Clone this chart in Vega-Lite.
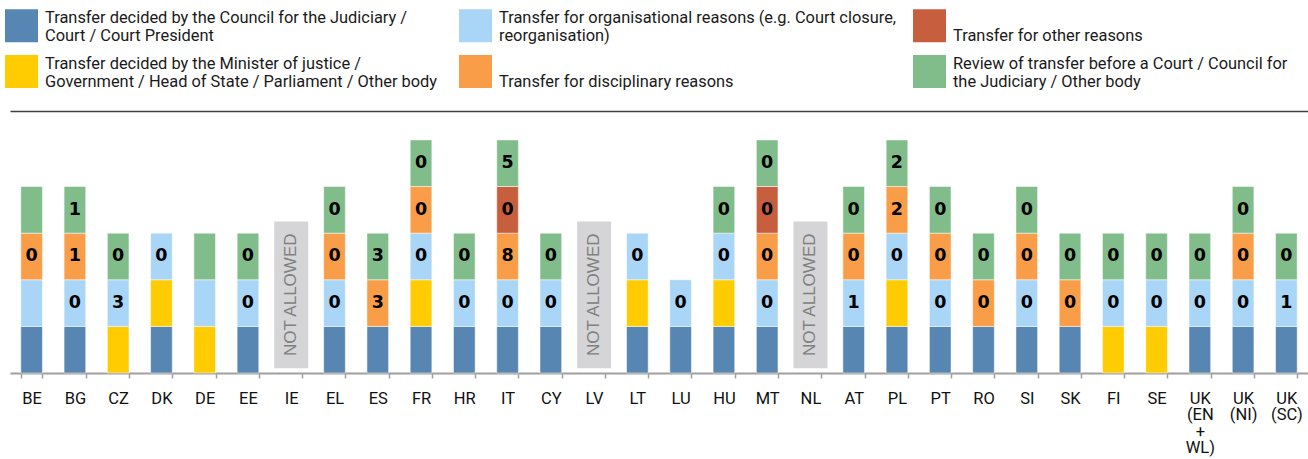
{
  "$schema": "https://vega.github.io/schema/vega-lite/v6.json",
  "width": 1298,
  "height": 262,
  "autosize": {"type": "none"},
  "padding": {"left": 10, "top": 111, "right": 0, "bottom": 86},
  "background": "white",
  "config": {
    "view": {"stroke": null},
    "font": "Roboto"
  },
  "datasets": {
    "segments": [
      {"c": "BE", "k": "council", "n": 1, "lab": ""},
      {"c": "BE", "k": "organisational", "n": 1, "lab": ""},
      {"c": "BE", "k": "disciplinary", "n": 1, "lab": "0"},
      {"c": "BE", "k": "review", "n": 1, "lab": ""},
      {"c": "BG", "k": "council", "n": 1, "lab": ""},
      {"c": "BG", "k": "organisational", "n": 1, "lab": "0"},
      {"c": "BG", "k": "disciplinary", "n": 1, "lab": "1"},
      {"c": "BG", "k": "review", "n": 1, "lab": "1"},
      {"c": "CZ", "k": "minister", "n": 1, "lab": ""},
      {"c": "CZ", "k": "organisational", "n": 1, "lab": "3"},
      {"c": "CZ", "k": "review", "n": 1, "lab": "0"},
      {"c": "DK", "k": "council", "n": 1, "lab": ""},
      {"c": "DK", "k": "minister", "n": 1, "lab": ""},
      {"c": "DK", "k": "organisational", "n": 1, "lab": "0"},
      {"c": "DE", "k": "minister", "n": 1, "lab": ""},
      {"c": "DE", "k": "organisational", "n": 1, "lab": ""},
      {"c": "DE", "k": "review", "n": 1, "lab": ""},
      {"c": "EE", "k": "council", "n": 1, "lab": ""},
      {"c": "EE", "k": "organisational", "n": 1, "lab": "0"},
      {"c": "EE", "k": "review", "n": 1, "lab": "0"},
      {"c": "EL", "k": "council", "n": 1, "lab": ""},
      {"c": "EL", "k": "organisational", "n": 1, "lab": "0"},
      {"c": "EL", "k": "disciplinary", "n": 1, "lab": "0"},
      {"c": "EL", "k": "review", "n": 1, "lab": "0"},
      {"c": "ES", "k": "council", "n": 1, "lab": ""},
      {"c": "ES", "k": "disciplinary", "n": 1, "lab": "3"},
      {"c": "ES", "k": "review", "n": 1, "lab": "3"},
      {"c": "FR", "k": "council", "n": 1, "lab": ""},
      {"c": "FR", "k": "minister", "n": 1, "lab": ""},
      {"c": "FR", "k": "organisational", "n": 1, "lab": "0"},
      {"c": "FR", "k": "disciplinary", "n": 1, "lab": "0"},
      {"c": "FR", "k": "review", "n": 1, "lab": "0"},
      {"c": "HR", "k": "council", "n": 1, "lab": ""},
      {"c": "HR", "k": "organisational", "n": 1, "lab": "0"},
      {"c": "HR", "k": "review", "n": 1, "lab": "0"},
      {"c": "IT", "k": "council", "n": 1, "lab": ""},
      {"c": "IT", "k": "organisational", "n": 1, "lab": "0"},
      {"c": "IT", "k": "disciplinary", "n": 1, "lab": "8"},
      {"c": "IT", "k": "other", "n": 1, "lab": "0"},
      {"c": "IT", "k": "review", "n": 1, "lab": "5"},
      {"c": "CY", "k": "council", "n": 1, "lab": ""},
      {"c": "CY", "k": "organisational", "n": 1, "lab": "0"},
      {"c": "CY", "k": "review", "n": 1, "lab": "0"},
      {"c": "LT", "k": "council", "n": 1, "lab": ""},
      {"c": "LT", "k": "minister", "n": 1, "lab": ""},
      {"c": "LT", "k": "organisational", "n": 1, "lab": "0"},
      {"c": "LU", "k": "council", "n": 1, "lab": ""},
      {"c": "LU", "k": "organisational", "n": 1, "lab": "0"},
      {"c": "HU", "k": "council", "n": 1, "lab": ""},
      {"c": "HU", "k": "minister", "n": 1, "lab": ""},
      {"c": "HU", "k": "organisational", "n": 1, "lab": "0"},
      {"c": "HU", "k": "review", "n": 1, "lab": "0"},
      {"c": "MT", "k": "council", "n": 1, "lab": ""},
      {"c": "MT", "k": "organisational", "n": 1, "lab": "0"},
      {"c": "MT", "k": "disciplinary", "n": 1, "lab": "0"},
      {"c": "MT", "k": "other", "n": 1, "lab": "0"},
      {"c": "MT", "k": "review", "n": 1, "lab": "0"},
      {"c": "AT", "k": "council", "n": 1, "lab": ""},
      {"c": "AT", "k": "organisational", "n": 1, "lab": "1"},
      {"c": "AT", "k": "disciplinary", "n": 1, "lab": "0"},
      {"c": "AT", "k": "review", "n": 1, "lab": "0"},
      {"c": "PL", "k": "council", "n": 1, "lab": ""},
      {"c": "PL", "k": "minister", "n": 1, "lab": ""},
      {"c": "PL", "k": "organisational", "n": 1, "lab": "0"},
      {"c": "PL", "k": "disciplinary", "n": 1, "lab": "2"},
      {"c": "PL", "k": "review", "n": 1, "lab": "2"},
      {"c": "PT", "k": "council", "n": 1, "lab": ""},
      {"c": "PT", "k": "organisational", "n": 1, "lab": "0"},
      {"c": "PT", "k": "disciplinary", "n": 1, "lab": "0"},
      {"c": "PT", "k": "review", "n": 1, "lab": "0"},
      {"c": "RO", "k": "council", "n": 1, "lab": ""},
      {"c": "RO", "k": "disciplinary", "n": 1, "lab": "0"},
      {"c": "RO", "k": "review", "n": 1, "lab": "0"},
      {"c": "SI", "k": "council", "n": 1, "lab": ""},
      {"c": "SI", "k": "organisational", "n": 1, "lab": "0"},
      {"c": "SI", "k": "disciplinary", "n": 1, "lab": "0"},
      {"c": "SI", "k": "review", "n": 1, "lab": "0"},
      {"c": "SK", "k": "council", "n": 1, "lab": ""},
      {"c": "SK", "k": "disciplinary", "n": 1, "lab": "0"},
      {"c": "SK", "k": "review", "n": 1, "lab": "0"},
      {"c": "FI", "k": "minister", "n": 1, "lab": ""},
      {"c": "FI", "k": "organisational", "n": 1, "lab": "0"},
      {"c": "FI", "k": "review", "n": 1, "lab": "0"},
      {"c": "SE", "k": "minister", "n": 1, "lab": ""},
      {"c": "SE", "k": "organisational", "n": 1, "lab": "0"},
      {"c": "SE", "k": "review", "n": 1, "lab": "0"},
      {"c": "UK (EN+WL)", "k": "council", "n": 1, "lab": ""},
      {"c": "UK (EN+WL)", "k": "organisational", "n": 1, "lab": "0"},
      {"c": "UK (EN+WL)", "k": "review", "n": 1, "lab": "0"},
      {"c": "UK (NI)", "k": "council", "n": 1, "lab": ""},
      {"c": "UK (NI)", "k": "organisational", "n": 1, "lab": "0"},
      {"c": "UK (NI)", "k": "disciplinary", "n": 1, "lab": "0"},
      {"c": "UK (NI)", "k": "review", "n": 1, "lab": "0"},
      {"c": "UK (SC)", "k": "council", "n": 1, "lab": ""},
      {"c": "UK (SC)", "k": "organisational", "n": 1, "lab": "1"},
      {"c": "UK (SC)", "k": "review", "n": 1, "lab": "0"}
    ],
    "notallowed": [
      {"c": "IE", "note": "NOT ALLOWED"},
      {"c": "LV", "note": "NOT ALLOWED"},
      {"c": "NL", "note": "NOT ALLOWED"}
    ]
  },
  "resolve": {"axis": {"x": "independent"}},
  "layer": [
    {
      "data": {"name": "segments"},
      "transform": [
        {"stack": "n", "groupby": ["c"], "as": ["y0", "y1"]}
      ],
      "mark": {"type": "bar", "stroke": "white", "strokeWidth": 0.5},
      "encoding": {
        "x": {
          "field": "c", "type": "nominal",
          "scale": {
            "domain": ["BE","BG","CZ","DK","DE","EE","IE","EL","ES","FR","HR","IT","CY","LV","LT","LU","HU","MT","NL","AT","PL","PT","RO","SI","SK","FI","SE","UK (EN+WL)","UK (NI)","UK (SC)"],
            "paddingInner": 0.5, "paddingOuter": 0.25
          },
          "axis": {
            "orient": "bottom", "title": null, "grid": false,
            "domainColor": "#a0a0a0", "domainWidth": 2,
            "tickColor": "#a0a0a0", "tickWidth": 1.5, "tickSize": 5, "tickBand": "extent",
            "labelAngle": 0, "labelFont": "Roboto", "labelFontSize": 16.5, "labelColor": "#111111",
            "labelBaseline": "top", "labelPadding": 12, "labelLineHeight": 16.5,
            "labelExpr": "datum.label == 'UK (EN+WL)' ? ['UK', '(EN', '+', 'WL)'] : split(datum.label, ' ')"
          }
        },
        "y": {
          "field": "y0", "type": "quantitative",
          "scale": {"domain": [0, 5.62], "nice": false, "zero": true},
          "axis": {
            "title": null, "labels": false, "ticks": false, "domain": false,
            "grid": true, "values": [1, 2, 3, 4, 5], "gridColor": "#c8c8c8", "gridWidth": 2
          }
        },
        "y2": {"field": "y1"},
        "color": {
          "field": "k", "type": "nominal",
          "scale": {
            "domain": ["council", "organisational", "other", "minister", "disciplinary", "review"],
            "range": ["#5686b1", "#a9d5f6", "#c75f3e", "#fecc00", "#f99d48", "#81bd8a"]
          },
          "legend": {
            "orient": "none", "legendX": -5, "legendY": -102,
            "title": null, "columns": 3, "direction": "horizontal",
            "padding": 0, "gridAlign": "all",
            "columnPadding": 16, "rowPadding": 10,
            "symbolType": "square", "symbolSize": 1089, "symbolStrokeWidth": 0,
            "labelFont": "Roboto", "labelFontSize": 16.4, "labelColor": "#1a1a1a",
            "labelLimit": 600, "labelOffset": 7, "labelBaseline": "bottom",
            "labelExpr": "datum.label == 'council' ? ['Transfer decided by the Council for the Judiciary /', 'Court / Court President'] : datum.label == 'minister' ? ['Transfer decided by the Minister of justice /', 'Government / Head of State / Parliament / Other body'] : datum.label == 'organisational' ? ['Transfer for organisational reasons (e.g. Court closure,', 'reorganisation)'] : datum.label == 'disciplinary' ? ['', 'Transfer for disciplinary reasons'] : datum.label == 'other' ? ['', 'Transfer for other reasons'] : ['Review of transfer before a Court / Council for', 'the Judiciary / Other body']"
          }
        }
      }
    },
    {
      "data": {"name": "notallowed"},
      "mark": {"type": "bar", "width": 34, "color": "#d5d5d7"},
      "encoding": {
        "x": {"field": "c", "type": "nominal", "axis": null},
        "y": {"datum": 3.25, "type": "quantitative", "axis": null},
        "y2": {"datum": 0.1}
      }
    },
    {
      "data": {"name": "notallowed"},
      "mark": {"type": "text", "angle": 270, "align": "right", "baseline": "middle", "dx": -12, "font": "Liberation Sans", "fontSize": 17, "color": "#808080"},
      "encoding": {
        "x": {"field": "c", "type": "nominal", "axis": null},
        "y": {"datum": 3.25, "type": "quantitative", "axis": null},
        "text": {"field": "note"}
      }
    },
    {
      "data": {"name": "segments"},
      "transform": [
        {"stack": "n", "groupby": ["c"], "as": ["y0", "y1"]}
      ],
      "mark": {"type": "text", "baseline": "middle", "align": "center", "dy": 23.3, "font": "DejaVu Sans", "fontWeight": "bold", "fontSize": 17.5, "color": "#000000"},
      "encoding": {
        "x": {
          "field": "c", "type": "nominal",
          "axis": {"orient": "top", "title": null, "labels": false, "ticks": false, "grid": false, "domain": true, "domainColor": "#404040", "domainWidth": 1.5}
        },
        "y": {"field": "y1", "type": "quantitative", "axis": null},
        "text": {"field": "lab"}
      }
    }
  ]
}
